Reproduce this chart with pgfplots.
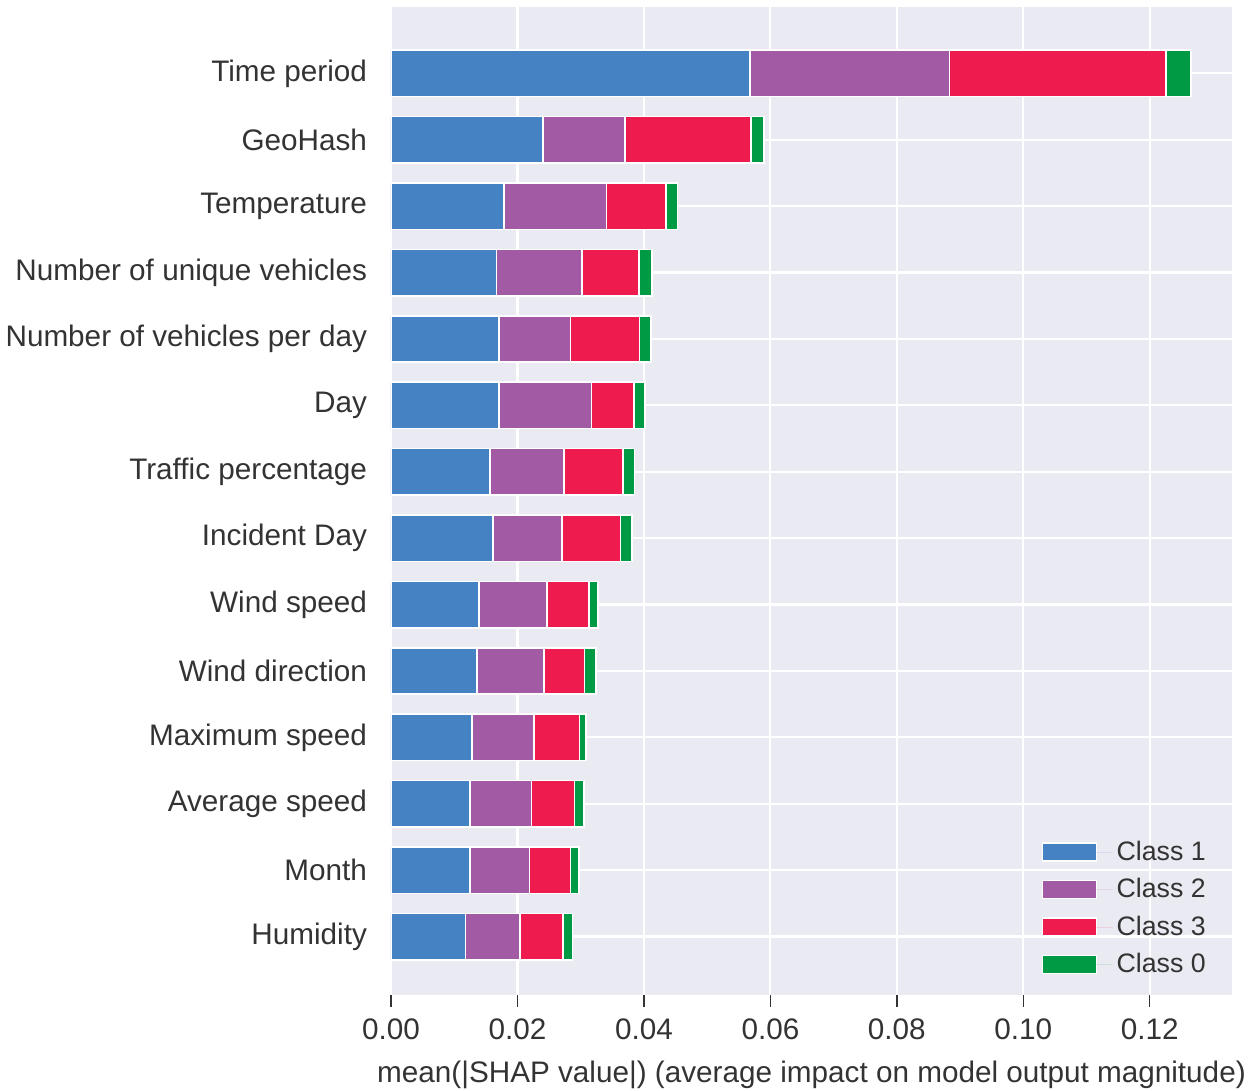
\documentclass[border=0pt]{standalone}
\usepackage{fontspec}
\setmainfont{Liberation Sans}
\usepackage{pgfplots}
\usepackage{pgfplotstable}
\pgfplotsset{compat=1.18}

\definecolor{bgcol}{HTML}{EAEAF2}
\definecolor{cone}{HTML}{4582C4}
\definecolor{ctwo}{HTML}{A25AA5}
\definecolor{cthree}{HTML}{EE1B4F}
\definecolor{czero}{HTML}{009A44}
\definecolor{txt}{HTML}{333333}

% y = row (0 = bottom), one column per class
\pgfplotstableread{
y  c1     c2     c3     c0
0  0.0118 0.0086 0.0068 0.0015
1  0.0125 0.0094 0.0065 0.0013
2  0.0125 0.0097 0.0068 0.0015
3  0.0128 0.0098 0.0072 0.0010
4  0.0136 0.0106 0.0064 0.0018
5  0.0139 0.0108 0.0066 0.0014
6  0.0161 0.0109 0.0093 0.0018
7  0.0157 0.0117 0.0093 0.0018
8  0.0171 0.0146 0.0067 0.0018
9  0.0171 0.0113 0.0109 0.0018
10 0.0167 0.0135 0.0090 0.0021
11 0.0179 0.0162 0.0094 0.0018
12 0.0240 0.0130 0.0199 0.0021
13 0.0568 0.0315 0.0343 0.0039
}\shap

\begin{document}
\begin{tikzpicture}
\begin{axis}[
    name=ax,
    scale only axis,
    width=420.5bp, height=494bp,
    xbar stacked,
    bar width=0.7,
    xmin=0, xmax=0.133,
    ymin=-0.88, ymax=14,
    axis background/.style={fill=bgcol},
    axis line style={draw=none},
    grid=major,
    grid style={white, line width=1.1pt},
    xtick={0,0.02,...,0.121},
    ytick={0,...,13},
    yticklabels={Humidity, Month, Average speed, Maximum speed, Wind direction, Wind speed,
        Incident Day, Traffic percentage, Day, Number of vehicles per day,
        Number of unique vehicles, Temperature, GeoHash, Time period},
    xtick pos=bottom,
    tick align=outside,
    major tick length=6bp,
    x tick style={txt, line width=0.7pt},
    y tick style={draw=none},
    xticklabel style={/pgf/number format/fixed, /pgf/number format/fixed zerofill,
        /pgf/number format/precision=2},
    /pgf/number format/assume math mode=true,
    ticklabel style={font=\fontsize{14.9}{17}\selectfont, text=txt},
    yticklabel style={xshift=-2.5bp},
    xticklabel style={yshift=-2.5bp},
    xlabel={mean(|SHAP value|) (average impact on model output magnitude)},
    xlabel style={font=\fontsize{14.9}{17}\selectfont, text=txt, yshift=-3.5bp},
    legend style={at={(0.981,0.011)}, anchor=south east, draw=none, fill=none,
        font=\fontsize{13.4}{15}\selectfont, text=txt, row sep=3.6bp},
    legend cell align=left,
    legend image code/.code={\draw[#1, draw=white, line width=0.6pt] (0bp,-4.5bp) rectangle (27bp,4.5bp);
        \path[draw=none] (0bp,0bp) -- (35bp,0bp);},
    every axis plot/.append style={draw=white, line width=0.8pt},
]
\addplot[fill=cone] table[x=c1, y=y] {\shap};
\addlegendentry{Class 1}
\addplot[fill=ctwo] table[x=c2, y=y] {\shap};
\addlegendentry{Class 2}
\addplot[fill=cthree] table[x=c3, y=y] {\shap};
\addlegendentry{Class 3}
\addplot[fill=czero] table[x=c0, y=y] {\shap};
\addlegendentry{Class 0}
\end{axis}
\pgfresetboundingbox
\path ([xshift=-195.5bp, yshift=-48bp]ax.south west) rectangle ([xshift=9bp, yshift=3.5bp]ax.north east);
\end{tikzpicture}
\end{document}
